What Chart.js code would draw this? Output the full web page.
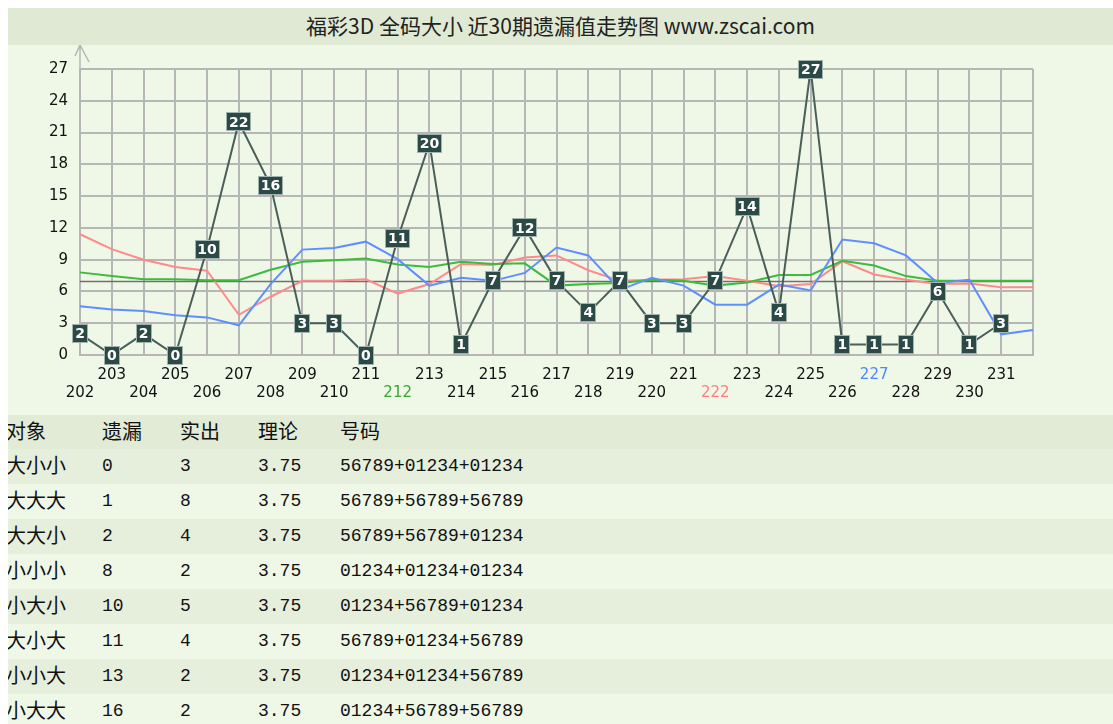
<!DOCTYPE html>
<html>
<head>
<meta charset="utf-8">
<title>福彩3D 全码大小 近30期遗漏值走势图</title>
<script src="https://cdn.jsdelivr.net/npm/chart.js@4.4.1/dist/chart.umd.min.js"></script>
<style>
  html, body { margin: 0; padding: 0; overflow: hidden; background: #fff; }
  #wrap { position: absolute; left: 8px; top: 8px; width: 1105px; }
  .title {
    height: 37px; line-height: 37px; text-align: center; background: #dfe9d3;
    font: 21px "Noto Sans CJK SC", sans-serif; color: #222; overflow: hidden;
  }
  .title span { position: relative; top: 2px; }
  .chartbox { height: 370px; background: #eff7e7; }
  .row { height: 35px; line-height: 35px; position: relative; color: #111; overflow: hidden; }
  .row:nth-child(odd) { background: #eff7e7; }
  .row:nth-child(even) { background: #e6eedc; }
  .row.head { height: 34px; line-height: 34px; background: #e1ebd5; }
  .row span { position: absolute; top: 0; white-space: nowrap; }
  .cn { font: 20px "Noto Sans CJK SC", sans-serif; margin-top: 1px; }
  .num { font: 18px "Liberation Mono", monospace; margin-top: 7px; }
</style>
</head>
<body>
<div id="wrap">
  <div class="title"><span>福彩3D 全码大小 近30期遗漏值走势图 www.zscai.com</span></div>
  <div class="chartbox"><canvas id="trend" width="1105" height="370"></canvas></div>
  <div id="table"></div>
</div>
<script>
// periods 202..231, plus one empty slot on the right edge
const periods = ['202', '203', '204', '205', '206', '207', '208', '209', '210', '211',
  '212', '213', '214', '215', '216', '217', '218', '219', '220', '221',
  '222', '223', '224', '225', '226', '227', '228', '229', '230', '231', ''];

// missing count per period
const missValues = [2, 0, 2, 0, 10, 22, 16, 3, 3, 0, 11, 20, 1, 7, 12, 7, 4, 7, 3, 3,
  7, 14, 4, 27, 1, 1, 1, 6, 1, 3];

const redLine = [11.4, 10.0, 9.0, 8.3, 7.95, 3.8, 5.5, 7.0, 7.0, 7.15, 5.8, 6.7, 8.6, 8.5, 9.2,
  9.4, 8.0, 7.0, 7.1, 7.15, 7.45, 7.0, 6.5, 6.7, 8.85, 7.6, 7.1, 6.7, 6.75, 6.4, 6.4];
const greenLine = [7.8, 7.45, 7.15, 7.15, 7.05, 7.05, 8.05, 8.8, 8.95, 9.1, 8.55, 8.3, 8.8, 8.6, 8.65,
  6.55, 6.7, 6.8, 7.1, 7.0, 6.55, 6.85, 7.55, 7.55, 8.9, 8.45, 7.45, 7.0, 7.0, 7.0, 7.0];
const blueLine = [4.6, 4.3, 4.15, 3.75, 3.55, 2.8, 6.7, 9.95, 10.1, 10.7, 9.05, 6.55, 7.3, 7.0, 7.75,
  10.15, 9.4, 6.15, 7.3, 6.55, 4.75, 4.75, 6.65, 6.1, 10.9, 10.55, 9.4, 6.8, 7.1, 1.95, 2.35];

const REF_LEVEL = 7;
const yTicks = [0, 3, 6, 9, 12, 15, 18, 21, 24, 27];

// periods whose axis label is coloured
const markedPeriods = { '212': '#33aa33', '222': '#ff7f7f', '227': '#4f86ff' };

// table
const rowTargets = ['大小小', '大大大', '大大小', '小小小', '小大小', '大小大', '小小大', '小大大'];
const rowMiss = [0, 1, 2, 8, 10, 11, 13, 16];
const rowHits = [3, 8, 4, 2, 5, 4, 2, 2];
const rowTheory = ['3.75', '3.75', '3.75', '3.75', '3.75', '3.75', '3.75', '3.75'];
const rowNumbers = ['56789+01234+01234', '56789+56789+56789', '56789+56789+01234', '01234+01234+01234',
  '01234+56789+01234', '56789+01234+56789', '01234+01234+56789', '01234+56789+56789'];

const GRID = '#b6b6b6';

const decor = {
  id: 'decor',
  beforeDatasetsDraw(chart) {
    const { ctx, chartArea: a, scales: { y } } = chart;
    ctx.save();
    // y axis arrow
    ctx.strokeStyle = GRID;
    ctx.lineWidth = 1.5;
    ctx.beginPath();
    ctx.moveTo(a.left, a.top);
    ctx.lineTo(a.left, a.top - 24);
    ctx.moveTo(a.left - 5, a.top - 13);
    ctx.lineTo(a.left, a.top - 24);
    ctx.lineTo(a.left + 9, a.top - 7);
    ctx.stroke();
    // reference level
    const py = Math.round(y.getPixelForValue(REF_LEVEL)) + 0.5;
    ctx.strokeStyle = '#707070';
    ctx.lineWidth = 1.5;
    ctx.beginPath();
    ctx.moveTo(a.left, py);
    ctx.lineTo(a.right, py);
    ctx.stroke();
    ctx.restore();
  },
  afterDatasetsDraw(chart) {
    const { ctx } = chart;
    const meta = chart.getDatasetMeta(0);
    ctx.save();
    ctx.font = 'bold 14px "DejaVu Sans"';
    ctx.textAlign = 'center';
    ctx.textBaseline = 'middle';
    meta.data.forEach((pt, i) => {
      const text = String(missValues[i]);
      const w = Math.round(ctx.measureText(text).width) + 4;
      const h = 17;
      const x = Math.round(pt.x - w / 2);
      const top = Math.round(pt.y - h / 2);
      ctx.fillStyle = '#2c4a45';
      ctx.fillRect(x, top, w, h);
      ctx.strokeStyle = '#a3b3ae';
      ctx.lineWidth = 1;
      ctx.strokeRect(x - 0.5, top - 0.5, w + 1, h + 1);
      ctx.fillStyle = '#ffffff';
      ctx.fillText(text, pt.x, pt.y + 1);
    });
    ctx.restore();
  },
};

new Chart(document.getElementById('trend'), {
  type: 'line',
  data: {
    labels: periods,
    datasets: [
      { data: missValues, borderColor: '#4a5e5a', borderWidth: 2, pointRadius: 0, tension: 0 },
      { data: blueLine, borderColor: '#5f8fff', borderWidth: 2, pointRadius: 0, tension: 0 },
      { data: greenLine, borderColor: '#3cbb3c', borderWidth: 2, pointRadius: 0, tension: 0 },
      { data: redLine, borderColor: '#ff8a8a', borderWidth: 2, pointRadius: 0, tension: 0 },
    ],
  },
  options: {
    responsive: false,
    animation: false,
    devicePixelRatio: 1,
    layout: { padding: { top: 24, right: 80, left: 0, bottom: 0 } },
    plugins: { legend: { display: false }, tooltip: { enabled: false } },
    scales: {
      x: {
        type: 'category',
        offset: false,
        afterFit(scale) { scale.height = 60; },
        grid: { color: GRID, lineWidth: 2, drawTicks: false },
        border: { color: GRID, width: 2 },
        ticks: {
          autoSkip: false,
          maxRotation: 0,
          padding: 11,
          font: { family: 'DejaVu Sans', size: 15, lineHeight: 1.2 },
          color: (c) => markedPeriods[periods[c.index]] || '#111',
          callback: (v, i) => (i % 2 === 0 ? ['', periods[i]] : [periods[i], '']),
        },
      },
      y: {
        min: 0,
        max: 27,
        afterFit(scale) { scale.width = 72; },
        afterBuildTicks(scale) { scale.ticks = yTicks.map((v) => ({ value: v })); },
        grid: { color: GRID, lineWidth: 2, drawTicks: false },
        border: { color: GRID, width: 2 },
        ticks: {
          padding: 12,
          font: { family: 'DejaVu Sans', size: 15 },
          color: '#111',
        },
      },
    },
  },
  plugins: [decor],
});

// table under the chart
const cols = [0, 94, 172, 250, 332];
function cell(left, text, cls) {
  return `<span class="${cls}" style="left:${left}px">${text}</span>`;
}
let html = '<div class="row head">' +
  cell(-2, '对象', 'cn') + cell(cols[1], '遗漏', 'cn') + cell(cols[2], '实出', 'cn') +
  cell(cols[3], '理论', 'cn') + cell(cols[4], '号码', 'cn') + '</div>';
rowTargets.forEach((t, i) => {
  html += '<div class="row">' +
    cell(-2, t, 'cn') + cell(cols[1], rowMiss[i], 'num') + cell(cols[2], rowHits[i], 'num') +
    cell(cols[3], rowTheory[i], 'num') + cell(cols[4], rowNumbers[i], 'num') + '</div>';
});
document.getElementById('table').innerHTML = html;
</script>
</body>
</html>
